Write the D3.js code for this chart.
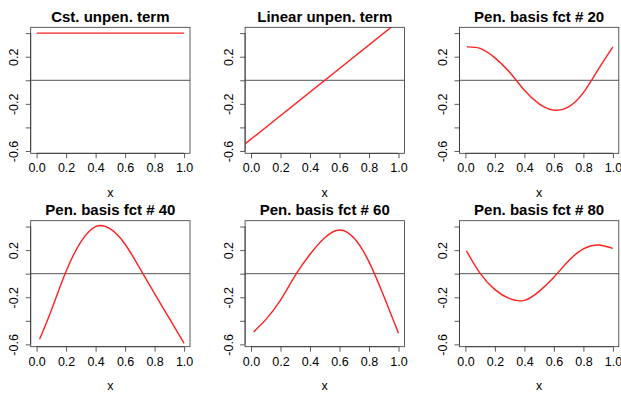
<!DOCTYPE html>
<html>
<head>
<meta charset="utf-8">
<script src="https://cdn.jsdelivr.net/npm/d3@7"></script>
<style>
  html, body { margin: 0; padding: 0; background: #fff; }
  svg { display: block; }
  text { font-family: "Liberation Sans", Arial, Helvetica, sans-serif; fill: #000; }
</style>
</head>
<body>
<svg id="chart" width="621" height="393"></svg>
<script>
// Panel titles, in reading order
const titles = [
  "Cst. unpen. term",
  "Linear unpen. term",
  "Pen. basis fct # 20",
  "Pen. basis fct # 40",
  "Pen. basis fct # 60",
  "Pen. basis fct # 80"
];

// Axis ticks
const xTicks = [0, 0.2, 0.4, 0.6, 0.8, 1.0];
const xTickLabels = ["0.0", "0.2", "0.4", "0.6", "0.8", "1.0"];
const yTicks = [-0.6, -0.4, -0.2, 0, 0.2, 0.4];
const yTickLabels = ["-0.6", "", "-0.2", "", "0.2", ""];

// Shared data ranges (before the 4% padding)
const xRange = [0, 1];
const yRange = [-0.58, 0.41];

// Constant unpenalized term
const cstX = [0.0, 1.0];
const cstY = [0.40, 0.40];

// Linear unpenalized term: a straight line across the panel
const linearIntercept = -0.5;
const linearSlope = 1.0;

// Penalized basis functions, sampled on a grid of x
const basis20X = [0.01, 0.1, 0.2, 0.3, 0.4, 0.5, 0.6, 0.7, 0.8, 0.9, 1.0];
const basis20Y = [0.283, 0.27, 0.19, 0.068, -0.085, -0.2, -0.253, -0.225, -0.105, 0.09, 0.283];

const basis40X = [0.02, 0.1, 0.2, 0.3, 0.4, 0.5, 0.6, 0.7, 0.8, 0.9, 1.0];
const basis40Y = [-0.557, -0.31, 0.02, 0.27, 0.40, 0.38, 0.25, 0.045, -0.17, -0.38, -0.591];

const basis60X = [0.018, 0.1, 0.2, 0.3, 0.4, 0.5, 0.6, 0.7, 0.8, 0.9, 1.0];
const basis60Y = [-0.494, -0.39, -0.225, -0.015, 0.165, 0.305, 0.371, 0.30, 0.10, -0.19, -0.506];

const basis80X = [0.007, 0.1, 0.2, 0.3, 0.4, 0.5, 0.6, 0.7, 0.8, 0.9, 1.0];
const basis80Y = [0.194, 0.002, -0.135, -0.212, -0.226, -0.15, -0.03, 0.11, 0.21, 0.243, 0.214];

const zip = (xs, ys) => xs.map((x, i) => [x, ys[i]]);
const series = [
  { pts: zip(cstX, cstY) },
  { abline: [linearIntercept, linearSlope] },
  { pts: zip(basis20X, basis20Y) },
  { pts: zip(basis40X, basis40Y) },
  { pts: zip(basis60X, basis60Y) },
  { pts: zip(basis80X, basis80Y) }
];

// Layout of the 2x3 grid of plot boxes
const boxW = 159.3, boxH = 126;
const colLeft = [30.7, 245.1, 459.5];
const rowTop = [27.3, 220.7];

const pad = (r) => { const d = (r[1] - r[0]) * 0.04; return [r[0] - d, r[1] + d]; };
const x = d3.scaleLinear().domain(pad(xRange)).range([0, boxW]);
const y = d3.scaleLinear().domain(pad(yRange)).range([boxH, 0]);

const svg = d3.select("#chart");
const defs = svg.append("defs");
defs.append("clipPath").attr("id", "plotclip")
  .append("rect").attr("width", boxW).attr("height", boxH);

const line = d3.line().x(d => x(d[0])).y(d => y(d[1])).curve(d3.curveNatural);

series.forEach((s, i) => {
  const g = svg.append("g")
    .attr("transform", `translate(${colLeft[i % 3]},${rowTop[Math.floor(i / 3)]})`);

  // title
  g.append("text")
    .attr("x", boxW / 2).attr("y", -5.5)
    .attr("text-anchor", "middle")
    .style("font-weight", "bold").style("font-size", "15px")
    .text(titles[i]);

  // x axis
  const xAxis = d3.axisBottom(x).tickValues(xTicks)
    .tickFormat((d, k) => xTickLabels[k]).tickSize(5).tickPadding(5);
  const gx = g.append("g").attr("transform", `translate(0,${boxH})`).call(xAxis);
  gx.select(".domain").attr("d", `M${x(xTicks[0])},0H${x(xTicks[xTicks.length - 1])}`);

  // y axis (labels read bottom-to-top)
  const yAxis = d3.axisLeft(y).tickValues(yTicks)
    .tickFormat((d, k) => yTickLabels[k]).tickSize(5).tickPadding(0);
  const gy = g.append("g").call(yAxis);
  gy.select(".domain").attr("d", `M0,${y(yTicks[0])}V${y(yTicks[yTicks.length - 1])}`);
  gy.selectAll(".tick text")
    .attr("x", null).attr("dy", null)
    .attr("text-anchor", "middle")
    .attr("transform", "translate(-12.4,0) rotate(-90)");

  [gx, gy].forEach(a => {
    a.selectAll(".domain, .tick line").attr("stroke", "#333").attr("stroke-width", 0.8);
    a.selectAll(".tick text").style("font-size", "12.5px").attr("fill", "#111")
      .attr("font-family", null);
  });

  // x label
  g.append("text")
    .attr("x", boxW / 2).attr("y", boxH + 43.5)
    .attr("text-anchor", "middle").style("font-size", "12.5px")
    .text("x");

  // zero reference line
  g.append("line")
    .attr("x1", 0).attr("x2", boxW)
    .attr("y1", y(0)).attr("y2", y(0))
    .attr("stroke", "#555").attr("stroke-width", 1);

  // curve
  const plot = g.append("g").attr("clip-path", "url(#plotclip)");
  if (s.abline) {
    const [a, b] = s.abline;
    const dom = x.domain();
    plot.append("line")
      .attr("x1", x(dom[0])).attr("y1", y(a + b * dom[0]))
      .attr("x2", x(dom[1])).attr("y2", y(a + b * dom[1]))
      .attr("stroke", "#ff2020").attr("stroke-width", 1.4);
  } else {
    plot.append("path").datum(s.pts)
      .attr("d", line)
      .attr("fill", "none").attr("stroke", "#ff2020").attr("stroke-width", 1.4);
  }

  // box around the plot region
  g.append("rect")
    .attr("width", boxW).attr("height", boxH)
    .attr("fill", "none").attr("stroke", "#333").attr("stroke-width", 0.8);
});
</script>
</body>
</html>
